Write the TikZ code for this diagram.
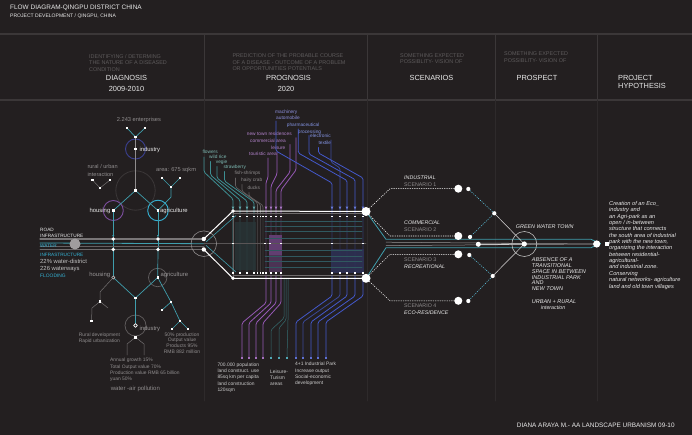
\documentclass[tikz,border=0pt]{standalone}
\usepackage{fontspec}
\setmainfont{Liberation Sans}
\usetikzlibrary{arrows.meta}

\definecolor{paper}{HTML}{231F20}
\definecolor{rulec}{HTML}{3B3738}
\definecolor{faintc}{HTML}{2E2A2B}
\definecolor{hintc}{HTML}{5D5A5B}
\definecolor{greyc}{HTML}{8F8C8D}
\definecolor{whitec}{HTML}{E9E9E9}
\definecolor{waterc}{HTML}{3F9EAD}
\definecolor{aquac}{HTML}{35B2D4}
\definecolor{housec}{HTML}{7C4E9E}
\definecolor{indc}{HTML}{3B4091}
\definecolor{purpc}{HTML}{9558B4}
\definecolor{purptx}{HTML}{B383CC}
\definecolor{bluec}{HTML}{4459CC}
\definecolor{bluetx}{HTML}{8393E2}
\definecolor{greentx}{HTML}{7DB9B2}
\definecolor{greenc}{HTML}{3D8E92}

\newcommand\fsz[2]{\fontsize{#1}{#2}\selectfont}

\begin{document}
\begin{tikzpicture}[x=1pt, y=-1pt, line cap=round, line join=round,
	txt/.style={anchor=base west, inner sep=0pt, text=whitec, font=\fsz{5.9}{7}},
	hint/.style={anchor=north west, inner sep=0pt, align=left, text=hintc, font=\fsz{5.45}{6.8}},
	head/.style={anchor=base, inner sep=0pt, text=whitec, font=\fsz{7.4}{7.7}},
	lbl/.style={anchor=base west, inner sep=0pt, text=greyc, font=\fsz{5.7}{7}},
	block/.style={anchor=north west, inner sep=0pt, align=left, text=greyc, font=\fsz{4.9}{6.3}},
	tag/.style={anchor=base west, inner sep=0pt, font=\fsz{4.8}{6}},
	scen/.style={anchor=base west, inner sep=0pt, text=whitec, font=\fsz{5.3}{7}\itshape},
	wire/.style={waterc, line width=.7pt},
	twig/.style={greyc!75!paper, line width=.5pt},
	dotline/.style={white, line width=.55pt, dash pattern=on .9pt off 1.4pt},
	gline/.style={line width=.8pt, rounded corners=1.5pt}]

	\fill[paper] (0,0) rectangle (692,435);
	\useasboundingbox (0,0) rectangle (692,435);

	\draw[rulec, line width=1.4pt] (0,34) -- (692,34);
	\draw[rulec, line width=1.4pt] (0,100) -- (692,100);
	\foreach \x in {204,367,495,597} {
		\draw[rulec, line width=.7pt] (\x,34) -- (\x,100);
		\draw[faintc, line width=.7pt] (\x,100) -- (\x,401);
	}

	\node[anchor=base west, inner sep=0pt, text=whitec, font=\fsz{6.45}{7.5}] (title) at (10,9.3) {FLOW DIAGRAM-QINGPU DISTRICT CHINA};
	\node[anchor=base west, inner sep=0pt, text=whitec, font=\fsz{5.05}{6}] (subtitle) at (10,17.3) {PROJECT DEVELOPMENT / QINGPU, CHINA};

	\node[hint] (diaghint) at (89,54) {IDENTIFYING / DETERMING\\THE NATURE OF A DISEASED\\CONDITION};
	\node[head] (diag) at (126.5,80.3) {DIAGNOSIS};
	\node[head] (diagyr) at (126.5,91.6) {2009-2010};
	\node[hint] (proghint) at (232.3,53.3) {PREDICTION OF THE PROBABLE COURSE\\OF A DISEASE - OUTCOME OF A PROBLEM\\OR OPPORTUNITIES POTENTIALS};
	\node[head] (prog) at (288.5,80.4) {PROGNOSIS};
	\node[head] (progyr) at (286,91.6) {2020};
	\node[hint] (scenhint) at (400,53) {SOMETHING EXPECTED\\POSSIBLITY- VISION OF};
	\node[head] (scen) at (431.5,80.6) {SCENARIOS};
	\node[hint] (prosphint) at (504,51.3) {SOMETHING EXPECTED\\POSSIBLITY- VISION OF};
	\node[head] (prosp) at (537,80.6) {PROSPECT};
	\node[head, anchor=north west, align=left] (hyp) at (618,75.4) {PROJECT\\HYPOTHESIS};

	% diagnosis, upper tree
	\node[shape=coordinate] (c1) at (135.5,190.5) {};
	\node[shape=coordinate] (ind1) at (135.5,149) {};
	\node[shape=coordinate] (indy) at (135.5,137) {};
	\node[shape=coordinate] (indl) at (127,128) {};
	\node[shape=coordinate] (indr) at (145,128) {};
	\node[shape=coordinate] (hou1) at (113.3,210.5) {};
	\node[shape=coordinate] (agr1) at (158,210.5) {};
	\node[shape=coordinate] (agrk) at (171,197) {};
	\node[shape=coordinate] (agry) at (171,187) {};
	\node[shape=coordinate] (agrl) at (162,178) {};
	\node[shape=coordinate] (agrr) at (180,178) {};
	\node[shape=coordinate] (rury) at (100,188) {};
	\node[shape=coordinate] (rurl) at (92.5,180) {};
	\node[shape=coordinate] (rurr) at (110,180) {};
	\node[shape=coordinate] (rd1) at (113.3,239) {};
	\node[shape=coordinate] (rd2) at (158,239) {};
	\node[shape=coordinate] (wt1) at (113.3,249.5) {};
	\node[shape=coordinate] (wt2) at (158,249.5) {};

	\draw[rulec, line width=.8pt] (c1) circle[radius=19.7pt];
	\draw[indc, line width=.9pt] (ind1) circle[radius=10pt];
	\draw[housec, line width=.9pt] (hou1) circle[radius=10pt];
	\draw[aquac, line width=.9pt] (agr1) circle[radius=10.3pt];

	\draw[twig, greyc] (c1) -- (indy);
	\draw[wire] (indl) -- (indy) -- (indr);
	\draw[wire] (hou1) -- (c1) -- (agr1);
	\draw[wire] (agr1) -- (agrk) -- (agry);
	\draw[wire] (agrl) -- (agry) -- (agrr);
	\draw[twig] (rurl) -- (rury) -- (rurr);
	\draw[wire, -{Latex[length=2.4pt,width=2.2pt]}, shorten >=1.5pt] (hou1) -- (rd1);
	\draw[wire, -{Latex[length=2.4pt,width=2.2pt]}, shorten >=1.5pt] (agr1) -- (rd2);
	\draw[wire] (rd1) -- (wt1);
	\draw[wire] (rd2) -- (wt2);

	\node[lbl] (ent) at (116.7,122) {2.243 enterprises};
	\node[txt] (indlbl) at (139.3,151.6) {industry};
	\node[lbl, anchor=north west, align=left, font=\fsz{5.6}{7.3}] (rural) at (87.3,164.6) {rural / urban\\interaction};
	\node[lbl] (area) at (156,172) {area: 675 sqkm};
	\node[txt, anchor=base east] (houlbl) at (110.5,212.6) {housing};
	\node[txt] (agrlbl) at (160,212.6) {agriculture};

	% infrastructure
	\node[shape=coordinate] (roadw) at (40,239) {};
	\node[shape=coordinate] (waterw) at (40,243) {};
	\node[shape=coordinate] (pg1) at (203.8,239) {};
	\node[shape=coordinate] (pg2) at (203.8,249.5) {};
	\node[shape=coordinate] (pc) at (203.8,243.7) {};
	\draw[greyc!80!paper, line width=1.3pt] (roadw) -- (pg1);
	\draw[waterc, line width=.8pt] (waterw) -- (pc);
	\draw[greyc!60!paper, line width=.6pt] (40,246.3) -- (203.8,246.3);
	\draw[greyc!70!paper, line width=.7pt] (40,249.5) -- (pg2);
	\fill[greyc!85!white] (75,244) circle[radius=5.5pt];

	\node[tag, text=whitec, font=\fsz{4.7}{6}] (road1) at (40,231.3) {ROAD};
	\node[tag, text=whitec, font=\fsz{4.7}{6}] (road2) at (40,238) {INFRASTRUCTURE};
	\node[tag, text=aquac, font=\fsz{4.7}{6}] (water1) at (40,247.5) {WATER};
	\node[tag, text=aquac, font=\fsz{4.7}{6}] (water2) at (40,256.8) {INFRASTRUCTURE};
	\node[txt, text=whitec!80!paper] (wd) at (40,263.6) {22\% water-district};
	\node[txt, text=whitec!80!paper] (ww) at (40,270.9) {226 waterways};
	\node[tag, text=aquac, font=\fsz{4.9}{6}] (flood) at (40,277.7) {FLOODING};

	% diagnosis, lower tree
	\node[shape=coordinate] (hou2) at (113.3,277.5) {};
	\node[shape=coordinate] (agr2) at (157.7,277.5) {};
	\node[shape=coordinate] (c2) at (135.5,298) {};
	\node[shape=coordinate] (ind2) at (135.5,325.5) {};
	\node[shape=coordinate] (agk) at (171,302) {};
	\node[shape=coordinate] (agl) at (162,310) {};
	\node[shape=coordinate] (agm) at (180,321) {};
	\node[shape=coordinate] (agml) at (172,329) {};
	\node[shape=coordinate] (agmr) at (188,329) {};
	\node[shape=coordinate] (hk) at (100,292) {};
	\node[shape=coordinate] (ry2) at (100,301.5) {};
	\node[shape=coordinate] (ryl) at (92,308) {};
	\node[shape=coordinate] (rylo) at (91.5,321) {};
	\node[shape=coordinate] (ryr) at (108,308) {};
	\node[shape=coordinate] (iy) at (135.5,337.3) {};
	\node[shape=coordinate] (il1) at (127,344) {};
	\node[shape=coordinate] (il2) at (127,355) {};
	\node[shape=coordinate] (ir1) at (144,344) {};
	\node[shape=coordinate] (ir2) at (144,355) {};

	\draw[rulec!80!white, line width=.7pt] (agr2) circle[radius=9.2pt];
	\draw[rulec!80!white, line width=.7pt] (ind2) circle[radius=10.5pt];
	\draw[wire] (wt1) -- (hou2);
	\draw[wire] (wt2) -- (agr2);
	\draw[wire] (hou2) -- (c2) -- (agr2);
	\draw[wire] (c2) -- (ind2);
	\draw[wire] (agr2) -- (agk) -- (agl);
	\draw[wire] (agk) -- (agm) -- (agml);
	\draw[wire] (agm) -- (agmr);
	\draw[twig] (hou2) -- (hk) -- (ry2);
	\draw[twig] (rylo) -- (ryl) -- (ry2) -- (ryr);
	\draw[twig] (il2) -- (il1) -- (iy) -- (ir1) -- (ir2);

	\foreach \p in {c1,ind1,indy,indl,indr,hou1,agr1,agry,agrl,agrr,rury,rurl,rurr,c2,agr2,agk,agl,agm,agml,agmr,ry2,rylo,iy}
		\fill[white] (\p) ++(-1.2,-1.2) rectangle ++(2.4,2.4);
	\foreach \p in {rd1,rd2,wt1,wt2}
		\fill[white] (\p) circle[radius=1.9pt];
	\filldraw[fill=paper, draw=greyc!60!white, line width=.6pt] (hou2) circle[radius=1.6pt];
	\filldraw[fill=paper, draw=white, line width=.7pt] (ind2) circle[radius=1.8pt];

	\node[txt, anchor=base east, text=greyc!90!white] (houlbl2) at (110.3,276.3) {housing};
	\node[txt, text=greyc!90!white] (agrlbl2) at (160.3,276.3) {agriculture};
	\node[txt, text=greyc!90!white] (indlbl2) at (139.3,330.2) {industry};
	\node[block] (ruraldev) at (78.7,332.6) {Rural development\\Rapid urbanization};
	\node[block, anchor=north, align=center, font=\fsz{5}{5.9}] (prodnote) at (182,332.2) {50\% production\\Output value\\Products 95\%\\RMB 882 million};
	\node[block, font=\fsz{4.9}{6.35}] (growth) at (110,357.9) {Annual growth 15\%\\Total Output value 70\%\\Production value RMB 65 billion\\yuan 50\%};
	\node[lbl, font=\fsz{6}{7}] (pollution) at (110.7,390.2) {water -air pollution};

	% prognosis labels
	\node[tag, text=bluetx!80!purptx] (mach) at (275,113.9) {machinery};
	\node[tag, text=bluetx!80!purptx] (auto) at (276,119.3) {automobile};
	\node[tag, text=bluetx] (pharma) at (286.7,126.6) {pharmaceutical};
	\node[tag, text=purptx] (newtown) at (246.7,135.6) {new town residences};
	\node[tag, text=bluetx] (process) at (297.7,133.3) {processing};
	\node[tag, text=bluetx] (electro) at (310,137.3) {electronic};
	\node[tag, text=purptx] (commerce) at (250,142.3) {commercial area};
	\node[tag, text=bluetx] (textile) at (318.3,144.9) {textile};
	\node[tag, text=purptx] (leisure) at (271,149.9) {leisure};
	\node[tag, text=purptx] (tourist) at (249,155.6) {touristic area};
	\node[tag, text=greentx] (flowers) at (202.3,153.9) {flowers};
	\node[tag, text=greentx] (wildrice) at (209,158.3) {wild rice};
	\node[tag, text=greentx] (vegie) at (215.7,163.3) {vegie};
	\node[tag, text=greentx] (strawb) at (223.3,168.3) {strawberry};
	\node[tag, text=greyc] (fish) at (234.3,174.9) {fish-shrimps};
	\node[tag, text=greyc] (crab) at (241,181.6) {hairy crab};
	\node[tag, text=greyc] (ducks) at (247.3,189.9) {ducks};

	% prognosis lines
	\node[shape=coordinate] (g1) at (204,157) {};
	\node[shape=coordinate] (g2) at (210.5,161.5) {};
	\node[shape=coordinate] (g3) at (217,166.5) {};
	\node[shape=coordinate] (g4) at (224.5,171.5) {};
	\node[shape=coordinate] (k1) at (235.5,178) {};
	\node[shape=coordinate] (k2) at (242,184.5) {};
	\node[shape=coordinate] (k3) at (249,192.5) {};
	\draw[gline, greenc] (g1) -- (204,172) -- (233,199) -- (233,273);
	\draw[gline, greenc] (g2) -- (210.5,175) -- (240,200) -- (240,273);
	\draw[gline, greenc] (g3) -- (217,178) -- (247,201) -- (247,273);
	\draw[gline, greenc] (g4) -- (224.5,181) -- (254,202) -- (254,273);
	\draw[gline, greyc!60!paper, line width=.6pt] (k1) -- (235.5,187) -- (257.5,203) -- (257.5,273);
	\draw[gline, greyc!60!paper, line width=.6pt] (k2) -- (242,191) -- (260.5,204.5) -- (260.5,273);
	\draw[gline, greyc!60!paper, line width=.6pt] (k3) -- (249,196) -- (263,205.5) -- (263,273);

	\node[shape=coordinate] (p1) at (296,137.8) {};
	\node[shape=coordinate] (p2) at (290,144.5) {};
	\node[shape=coordinate] (p3) at (277,152) {};
	\node[shape=coordinate] (p4) at (268,158) {};
	\node[shape=coordinate] (pe1) at (263,357) {};
	\node[shape=coordinate] (pe2) at (256,357) {};
	\node[shape=coordinate] (pe3) at (249,357) {};
	\node[shape=coordinate] (pe4) at (242,357) {};
	\draw[gline, purpc] (p1) -- (296,170) -- (281,190) -- (281,303) -- (263,323) -- (pe1);
	\draw[gline, purpc] (p2) -- (290,172) -- (276,190) -- (276,303) -- (256,323) -- (pe2);
	\draw[gline, purpc] (p3) -- (277,174) -- (271,186) -- (271,303) -- (249,323) -- (pe3);
	\draw[gline, purpc] (p4) -- (268,178) -- (266,182) -- (266,303) -- (242,323) -- (pe4);

	\node[shape=coordinate] (b1) at (276,121) {};
	\node[shape=coordinate] (b2) at (331,140) {};
	\node[shape=coordinate] (b3) at (298.3,129) {};
	\node[shape=coordinate] (b4) at (309,135.5) {};
	\node[shape=coordinate] (b5) at (318.5,147.5) {};
	\node[shape=coordinate] (be1) at (296,357) {};
	\node[shape=coordinate] (be2) at (303,357) {};
	\node[shape=coordinate] (be3) at (311,357) {};
	\node[shape=coordinate] (be4) at (318,357) {};
	\node[shape=coordinate] (be5) at (326,357) {};
	\draw[gline, bluec] (b1) -- (276,151) -- (332,183) -- (332,296) -- (296,322) -- (be1);
	\draw[gline, bluec!70!paper] (b2) -- (331,162) -- (340,168) -- (340,296) -- (303,322) -- (be2);
	\draw[gline, bluec] (b3) -- (298.3,153) -- (347,180.5) -- (347,296) -- (311,322) -- (be3);
	\draw[gline, bluec] (b4) -- (309,154) -- (355,179.5) -- (355,296) -- (318,322) -- (be4);
	\draw[gline, bluec] (b5) -- (318.5,153) -- (363,178) -- (363,296) -- (326,322) -- (be5);

	\node[shape=coordinate] (qe1) at (271,357) {};
	\node[shape=coordinate] (qe2) at (279,357) {};
	\node[shape=coordinate] (qe3) at (287,357) {};
	\draw[gline, greenc!70!paper, line width=.5pt] (284,278) -- (284,318) -- (271,330) -- (qe1);
	\draw[gline, greenc!70!paper, line width=.5pt] (286,278) -- (286,320) -- (279,328) -- (qe2);
	\draw[gline, greenc!70!paper, line width=.5pt] (288,278) -- (288,321) -- (qe3);

	% prognosis box
	\node[shape=coordinate] (bx1) at (233,211) {};
	\node[shape=coordinate] (bx2) at (366,211.5) {};
	\node[shape=coordinate] (bx3) at (233,278.3) {};
	\node[shape=coordinate] (bx4) at (366,278.3) {};
	\fill[paper, opacity=.6] (233,214) rectangle (366,275.5);
	\fill[greenc!22!paper, opacity=.75] (235,222) rectangle (256,270);
	\fill[purpc!55!paper] (268.5,235) rectangle (281.5,255);
	\fill[purpc!35!paper] (268.5,255) rectangle (281.5,272);
	\fill[bluec!30!paper, opacity=.9] (331,249) rectangle (364,273);
	\foreach \y in {221.7,226.7,231.7,238.3,250,256,261.7,267}
		\draw[waterc!45!paper, line width=.5pt] (265,\y) -- (362,\y);
	\draw[greyc!50!paper, line width=.5pt] (pc) -- (366,243.7);
	\draw[greyc!60!paper, line width=.5pt] (bx1) -- (bx3);
	\draw[greyc!70!paper, line width=.6pt] (233,213.6) -- (366,213.6);
	\draw[greyc!70!paper, line width=.6pt] (233,275.7) -- (366,275.7);
	\draw[waterc, line width=.6pt] (206,242) -- (236,215.5);
	\draw[waterc, line width=.6pt] (206,245.4) -- (236,272);
	\draw[greyc, line width=.6pt] (pc) circle[radius=12.8pt];
	\draw[white, line width=1pt] (pg1) -- (bx1) -- (bx2);
	\draw[white, line width=1pt] (pg2) -- (bx3) -- (bx4);

	\foreach \x/\c in {233/greenc,240/greenc,247/greenc,254/greenc,266/purpc,271/purpc,276/purpc,281/purpc,332/bluec,340/bluec,347/bluec,355/bluec,363/bluec}
		\fill[\c!80!white] (\x-1.4,206.6) -- (\x+1.4,206.6) -- (\x,209.4) -- cycle;
	\foreach \x in {233,240,247,254,257.5,260.5,263,266,271,276,281,332,340,347,355,363} {
		\fill[white] (\x-.9,215.6) rectangle (\x+.9,217.4);
		\fill[white] (\x-.9,272.4) rectangle (\x+.9,274.2);
	}
	\foreach \x in {233,265,270,281,332,363}
		\fill[white] (\x-.8,242.9) rectangle (\x+.8,244.5);
	\foreach \p in {pe1,pe2,pe3,pe4}
		\fill[purpc!85!white] (\p) ++(-1,0) rectangle ++(2,2);
	\foreach \p in {be1,be2,be3,be4,be5}
		\fill[bluec!85!white] (\p) ++(-1,0) rectangle ++(2,2);
	\foreach \p in {qe1,qe2,qe3}
		\fill[waterc!90!white] (\p) ++(-1,0) rectangle ++(2,2);
	\fill[white] (pg1) circle[radius=2.2pt];
	\fill[white] (pg2) circle[radius=2.2pt];
	\fill[white] (bx1) circle[radius=1.9pt];
	\fill[white] (bx3) circle[radius=1.9pt];

	\node[block, text=whitec!85!paper] (popnote) at (217.3,362.6) {700.000 population\\land construct. use\\85sq km per capita\\land construction\\120sqm};
	\node[block, text=whitec!85!paper] (leisnote) at (270,369.4) {Leisure-\\Turism\\areas};
	\node[block, text=whitec!85!paper] (parknote) at (295,362.1) {4+1 Industrial Park\\Increase output\\Social-economic\\development};

	% scenarios
	\node[shape=coordinate] (d1) at (390,188.7) {};
	\node[shape=coordinate] (d2) at (390,236) {};
	\node[shape=coordinate] (d3) at (390,254.3) {};
	\node[shape=coordinate] (d4) at (390,300.8) {};
	\node[shape=coordinate] (n1) at (458.3,188.7) {};
	\node[shape=coordinate] (n2) at (458.3,236) {};
	\node[shape=coordinate] (n3) at (458.3,254.3) {};
	\node[shape=coordinate] (n4) at (458.3,300.8) {};
	\node[shape=coordinate] (m1) at (468.3,189) {};
	\node[shape=coordinate] (m2) at (470,237) {};
	\node[shape=coordinate] (m3) at (469.3,255) {};
	\node[shape=coordinate] (m4) at (468.3,301) {};
	\node[shape=coordinate] (j1) at (494.3,213.3) {};
	\node[shape=coordinate] (j2) at (492.7,276) {};
	\node[shape=coordinate] (cn) at (478.3,244.3) {};
	\node[shape=coordinate] (gw) at (524.3,244) {};
	\node[shape=coordinate] (fin) at (596.7,244) {};
	\node[shape=coordinate] (fin2) at (607,244) {};
	\node[shape=coordinate] (tk1) at (386,239.3) {};
	\node[shape=coordinate] (tk2) at (386,247.7) {};
	\node[shape=coordinate] (tk3) at (591,239.3) {};
	\node[shape=coordinate] (tk4) at (591,247.7) {};
	\node[shape=coordinate] (tip) at (600.5,243.5) {};

	\draw[wire, line width=.8pt] (bx2) -- (tk1) -- (tk3) -- (tip);
	\draw[wire, line width=.8pt] (bx4) -- (tk2) -- (tk4) -- (tip);
	\draw[greyc!90!white, line width=.5pt] (386,242.2) -- (fin);
	\draw[greyc!90!white, line width=.5pt] (386,245.6) -- (fin);
	\draw[white, line width=.8pt] (cn) -- (gw);
	\draw[dotline] (bx2) -- (d1) -- (n1);
	\draw[dotline] (bx2) -- (d2) -- (n2);
	\draw[dotline] (bx4) -- (d3) -- (n3);
	\draw[dotline] (bx4) -- (d4) -- (n4);
	\draw[dotline, aquac!80!white] (m1) -- (j1) -- (m2);
	\draw[dotline, aquac!80!white] (m3) -- (j2) -- (m4);
	\draw[white!85!paper, line width=.5pt] (j1) -- (gw) -- (j2);
	\draw[whitec!80!paper, line width=.6pt] (gw) circle[radius=12.5pt];

	\foreach \p in {bx2,bx4}
		\fill[white] (\p) circle[radius=4.5pt];
	\foreach \p in {n1,n2,n3,n4}
		\fill[white] (\p) circle[radius=4pt];
	\foreach \p in {m1,m2,m3,m4,j1,j2}
		\fill[white] (\p) circle[radius=2.1pt];
	\fill[white] (cn) circle[radius=2.5pt];
	\fill[white] (gw) circle[radius=2.6pt];
	\fill[white] (fin) circle[radius=3.6pt];
	\fill[white] (fin2) ++(-1.8,-1.8) rectangle ++(3.6,3.6);

	\node[scen] (s1a) at (404,179.6) {INDUSTRIAL};
	\node[scen, text=greyc, font=\fsz{5.3}{7}] (s1b) at (404,186.6) {SCENARIO 1};
	\node[scen] (s2a) at (404,224.6) {COMMERCIAL};
	\node[scen, text=greyc, font=\fsz{5.3}{7}] (s2b) at (404,231.9) {SCENARIO 2};
	\node[scen, text=greyc, font=\fsz{5.3}{7}] (s3a) at (404,261.2) {SCENARIO 3};
	\node[scen] (s3b) at (404,268.6) {RECREATIONAL};
	\node[scen, text=greyc, font=\fsz{5.3}{7}] (s4a) at (404,307.6) {SCENARIO 4};
	\node[scen] (s4b) at (404,314.6) {ECO-RESIDENCE};

	\node[scen, font=\fsz{5.4}{7}\itshape] (gwt) at (515.7,228.6) {GREEN WATER TOWN};
	\node[scen, anchor=north west, align=left, font=\fsz{5.5}{5.9}\itshape] (absence) at (531.7,257.3) {ABSENCE OF A\\TRANSITIONAL\\SPACE IN BETWEEN\\INDUSTRIAL PARK\\AND\\NEW TOWN};
	\node[scen, font=\fsz{5.5}{7}\itshape] (urban) at (531.7,303.6) {URBAN + RURAL};
	\node[scen, font=\fsz{5.3}{7}\itshape] (interact) at (540.7,309.4) {interaction};

	\node[scen, anchor=north west, align=left, font=\fsz{5.65}{6.36}\itshape] (hypnote) at (609,201.1) {Creation of an Eco\_\\industry and\\an Agri-park as an\\open / in-between\\structure that connects\\the south area of industrial\\park with the new town,\\organizing the interaction\\between residential-\\agricultural-\\and industrial zone.\\Conserving\\natural networks- agriculture\\land and old town villages};

	\node[anchor=base west, inner sep=0pt, text=whitec, font=\fsz{6.4}{7}] (credit) at (516.7,427.9) {DIANA ARAYA M.- AA LANDSCAPE URBANISM 09-10};
\end{tikzpicture}
\end{document}
